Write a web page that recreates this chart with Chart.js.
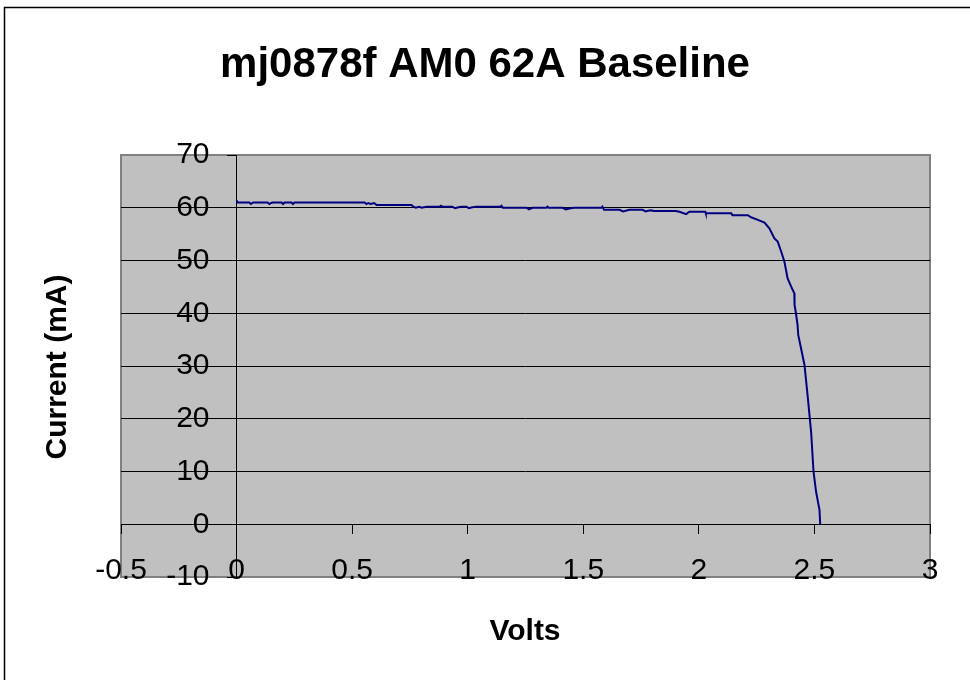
<!DOCTYPE html>
<html>
<head>
<meta charset="utf-8">
<script src="https://cdn.jsdelivr.net/npm/chart.js@4/dist/chart.umd.min.js"></script>
<style>
  html, body { margin: 0; padding: 0; background: #ffffff; }
  #wrap { position: relative; width: 970px; height: 680px; }
</style>
</head>
<body>
<div id="wrap"><canvas id="c"></canvas></div>
<script>
// ---- data ----
const chartTitle = "mj0878f AM0 62A Baseline";
const xAxisTitle = "Volts";
const yAxisTitle = "Current (mA)";

const volts = [0.000,0.005,0.055,0.062,0.072,0.085,0.134,0.142,0.150,0.156,0.195,0.201,0.208,0.238,0.244,0.251,
  0.554,0.562,0.570,0.580,0.595,0.606,0.757,0.765,0.775,0.790,0.800,0.822,0.878,0.884,0.891,0.934,0.945,0.960,0.973,
  0.995,1.005,1.020,1.038,1.140,1.146,1.152,1.254,1.265,1.280,1.340,1.345,1.350,1.410,1.425,1.445,1.460,1.578,1.583,
  1.590,1.657,1.672,1.700,1.756,1.770,1.790,1.808,1.900,1.916,1.945,1.959,2.028,2.030,2.140,2.145,2.212,2.226,2.255,
  2.284,2.305,2.327,2.341,2.356,2.370,2.384,2.406,2.413,2.414,2.420,2.427,2.430,2.457,2.471,2.486,2.496,2.507,2.522,2.525];

const currentMA = [61.4,61.0,61.0,60.7,61.0,61.0,61.0,60.7,60.9,61.0,61.0,60.7,61.0,61.0,60.7,61.0,
  61.0,60.7,60.9,60.7,60.9,60.5,60.5,60.2,60.0,60.2,60.0,60.2,60.2,60.4,60.2,60.2,59.9,60.1,60.2,
  60.2,59.9,60.1,60.2,60.2,60.4,60.0,60.0,59.7,60.0,60.0,60.2,60.0,60.0,59.7,59.9,60.0,60.0,60.2,
  59.6,59.6,59.3,59.6,59.6,59.3,59.5,59.4,59.4,59.25,58.8,59.25,59.25,58.95,58.95,58.6,58.6,58.2,57.7,
  57.2,56.1,54.2,53.6,51.7,49.8,46.6,44.4,43.8,41.6,40.0,37.8,35.9,30.2,24.2,17.3,10.0,6.2,2.7,0.0];

const xRange = [-0.5, 3];
const xStep = 0.5;
const yRange = [-10, 70];
const yStep = 10;

// ---- styling ----
const FONT = '"Liberation Sans", Arial, Helvetica, sans-serif';

const points = volts.map((v, i) => ({ x: v, y: currentMA[i] }));

const framePlugin = {
  id: 'frame',
  beforeDraw(chart) {
    const ctx = chart.ctx;
    const a = chart.chartArea;
    ctx.save();
    ctx.fillStyle = '#ffffff';
    ctx.fillRect(0, 0, chart.width, chart.height);
    ctx.strokeStyle = '#000000';
    ctx.lineWidth = 1.5;
    ctx.strokeRect(4.5, 7.5, chart.width + 20, chart.height + 20);
    ctx.fillStyle = '#c0c0c0';
    ctx.fillRect(a.left, a.top, a.right - a.left, a.bottom - a.top);
    ctx.strokeStyle = '#808080';
    ctx.lineWidth = 2;
    ctx.strokeRect(a.left, a.top, a.right - a.left, a.bottom - a.top);
    ctx.restore();
  },
  afterDraw(chart) {
    const ctx = chart.ctx;
    ctx.save();
    ctx.fillStyle = '#000000';
    ctx.font = 'bold 30px ' + FONT;
    ctx.textAlign = 'center';
    ctx.textBaseline = 'middle';
    ctx.fillText(xAxisTitle, 525, 632);
    ctx.translate(58, 367);
    ctx.rotate(-Math.PI / 2);
    ctx.fillText(yAxisTitle, 0, 0);
    ctx.restore();
  }
};

const tickFont = { family: FONT, size: 30 };
const hiddenSide = (w) => ({
  type: 'linear', axis: 'y', min: yRange[0], max: yRange[1],
  ticks: { display: false }, grid: { display: false }, border: { display: false },
  afterFit: (s) => { s.width = w; }
});

new Chart(document.getElementById('c'), {
  type: 'scatter',
  data: {
    datasets: [{
      label: 'IV',
      data: points,
      xAxisID: 'x',
      yAxisID: 'y',
      showLine: true,
      borderColor: '#000080',
      borderWidth: 2,
      pointRadius: 0,
      pointHoverRadius: 0,
      tension: 0,
      fill: false
    }]
  },
  options: {
    responsive: true,
    maintainAspectRatio: false,
    animation: false,
    devicePixelRatio: 1,
    layout: { padding: { left: 0, right: 0, top: 0, bottom: 103 } },
    plugins: {
      legend: { display: false },
      tooltip: { enabled: false },
      title: {
        display: true,
        text: chartTitle,
        color: '#000000',
        font: { family: FONT, size: 42, weight: 'bold', lineHeight: 1.2 },
        padding: { top: 40, bottom: 64.6 }
      }
    },
    scales: {
      padLeft: Object.assign(hiddenSide(121), { position: 'left' }),
      padRight: Object.assign(hiddenSide(40), { position: 'right' }),
      x: {
        type: 'linear',
        position: { y: 0 },
        min: xRange[0],
        max: xRange[1],
        ticks: {
          stepSize: xStep,
          color: '#000000',
          font: tickFont,
          padding: 19,
          maxRotation: 0,
          autoSkip: false,
          callback: (v) => String(parseFloat(Number(v).toFixed(2)))
        },
        grid: {
          drawOnChartArea: false,
          drawTicks: true,
          tickLength: 9,
          tickColor: '#000000',
          tickWidth: 1
        },
        border: { display: true, color: '#000000', width: 1 }
      },
      y: {
        type: 'linear',
        position: { x: 0 },
        min: yRange[0],
        max: yRange[1],
        ticks: { stepSize: yStep, display: false },
        grid: {
          drawOnChartArea: true,
          drawTicks: true,
          tickLength: 9,
          tickColor: '#000000',
          lineWidth: 1,
          color: (c) => (c.tick && c.tick.value > 0 && c.tick.value < 70) ? '#000000' : 'rgba(0,0,0,0)'
        },
        border: { display: true, color: '#000000', width: 1 }
      },
      yTickLabels: {
        type: 'linear',
        axis: 'y',
        position: { x: -0.117 },
        min: yRange[0],
        max: yRange[1],
        ticks: {
          stepSize: yStep,
          color: '#000000',
          font: tickFont,
          padding: 0,
          autoSkip: false
        },
        grid: { display: false },
        border: { display: false }
      }
    }
  },
  plugins: [framePlugin]
});
</script>
</body>
</html>
